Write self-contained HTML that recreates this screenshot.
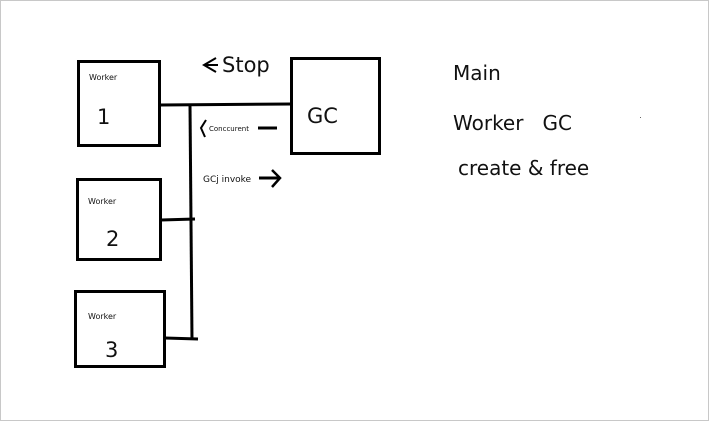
<!DOCTYPE html>
<html><head><style>
body{margin:0;background:#fff}
svg{display:block}
text{font-family:"DejaVu Sans","Liberation Sans",sans-serif;fill:#111}
</style></head><body>
<svg width="710" height="422" viewBox="0 0 710 422">
<rect x="0.5" y="0.5" width="708" height="420" fill="#fff" stroke="#c8c8c8"/>
<g fill="none" stroke="#000" stroke-width="3">
<rect x="78.5" y="61.5" width="81" height="84"/>
<rect x="291.5" y="58.5" width="88" height="95"/>
<rect x="77.5" y="179.5" width="83" height="80"/>
<rect x="75.5" y="291.5" width="89" height="75"/>
<line x1="160" y1="105" x2="292" y2="104"/>
<line x1="190" y1="105" x2="192" y2="340"/>
<line x1="161" y1="220" x2="195" y2="219"/>
<line x1="165" y1="338" x2="198" y2="339"/>
<line x1="258" y1="128" x2="277" y2="128"/>
<line x1="259" y1="178" x2="280" y2="178"/>
<path d="M216,58 L204,65 L216,72 M204,65 L218,65" stroke-width="2"/>
<path d="M206,120 L201,128 L205,137" stroke-width="2"/>
<path d="M272,170 L280,178 L272,187" stroke-width="2.5"/>
</g>
<text x="89" y="80" font-size="8">Worker</text>
<text x="97" y="124" font-size="21">1</text>
<text x="88" y="204" font-size="8">Worker</text>
<text x="106" y="246" font-size="21">2</text>
<text x="88" y="319" font-size="8">Worker</text>
<text x="105" y="357" font-size="21">3</text>
<text x="307" y="123" font-size="21">GC</text>
<text x="222" y="72" font-size="21">Stop</text>
<text x="209" y="131" font-size="7">Conccurent</text>
<text x="203" y="182" font-size="9">GCj invoke</text>
<text x="453" y="80" font-size="20">Main</text>
<text x="453" y="130" font-size="20">Worker&#160;&#160;&#160;GC</text>
<text x="458" y="175" font-size="20">create &amp; free</text>
<rect x="640" y="117" width="1" height="1" fill="#666"/>
</svg>
</body></html>
